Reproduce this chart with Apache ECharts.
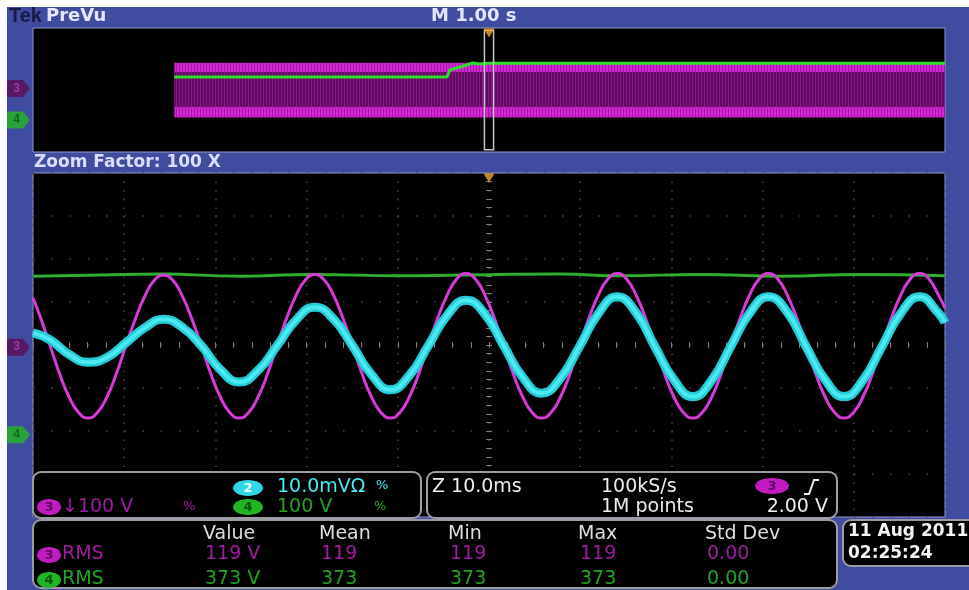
<!DOCTYPE html>
<html><head><meta charset="utf-8">
<script src="https://cdn.jsdelivr.net/npm/echarts@6/dist/echarts.min.js"></script>
<style>
html,body{margin:0;padding:0;background:#fff;}
#bg{position:absolute;left:7px;top:7px;width:962px;height:583px;background:#3f4c9f;}
#chart{position:absolute;left:0;top:0;width:969px;height:590px;}
</style></head><body><div id="bg"></div><div id="chart"></div>
<script>
// ---------------- DATA ----------------
// Main (zoomed) window: time in ms relative to screen centre, amplitude in divisions
const ch3T = [-50, -49.15, -48.12, -47.08, -46.04, -45.01, -43.97, -42.93, -41.90, -40.86, -39.82, -38.79, -37.75, -36.72, -35.68, -34.64, -33.61, -32.57, -31.53, -30.50, -29.46, -28.43, -27.39, -26.35, -25.32, -24.28, -23.25, -22.21, -21.17, -20.14, -19.10, -18.06, -17.03, -15.99, -14.96, -13.92, -12.88, -11.85, -10.81, -9.77, -8.74, -7.70, -6.67, -5.63, -4.59, -3.56, -2.52, -1.48, -0.45, 0.59, 1.62, 2.66, 3.70, 4.73, 5.77, 6.81, 7.84, 8.88, 9.91, 10.95, 11.99, 13.02, 14.06, 15.10, 16.13, 17.17, 18.20, 19.24, 20.28, 21.31, 22.35, 23.39, 24.42, 25.46, 26.49, 27.53, 28.57, 29.60, 30.64, 31.68, 32.71, 33.75, 34.78, 35.82, 36.86, 37.89, 38.93, 39.97, 41.00, 42.04, 43.07, 44.11, 45.15, 46.18, 47.22, 48.26, 49.29, 50];
const ch3Main = [1.10, 0.62, -0.02, -0.67, -1.21, -1.57, -1.70, -1.57, -1.21, -0.67, -0.02, 0.60, 1.13, 1.50, 1.62, 1.50, 1.13, 0.60, -0.02, -0.67, -1.21, -1.57, -1.70, -1.57, -1.21, -0.67, -0.02, 0.61, 1.15, 1.51, 1.64, 1.51, 1.15, 0.61, -0.02, -0.67, -1.21, -1.57, -1.70, -1.57, -1.21, -0.67, -0.02, 0.62, 1.16, 1.53, 1.66, 1.53, 1.16, 0.62, -0.02, -0.67, -1.21, -1.57, -1.70, -1.57, -1.21, -0.67, -0.02, 0.62, 1.16, 1.53, 1.66, 1.53, 1.16, 0.62, -0.02, -0.67, -1.21, -1.57, -1.70, -1.57, -1.21, -0.67, -0.02, 0.62, 1.16, 1.53, 1.66, 1.53, 1.16, 0.62, -0.02, -0.67, -1.21, -1.57, -1.70, -1.57, -1.21, -0.67, -0.02, 0.62, 1.16, 1.53, 1.66, 1.53, 1.16, 0.86];
const ch2T = [-50, -48.12, -46.04, -43.97, -41.90, -39.82, -37.75, -35.68, -33.61, -31.53, -29.46, -27.39, -25.32, -23.25, -21.17, -19.10, -17.03, -14.96, -12.88, -10.81, -8.74, -6.67, -4.59, -2.52, -0.45, 1.62, 3.70, 5.77, 7.84, 9.91, 11.99, 14.06, 16.13, 18.20, 20.28, 22.35, 24.42, 26.49, 28.57, 30.64, 32.71, 34.78, 36.86, 38.93, 41.00, 43.07, 45.15, 47.22, 49.29, 50];
const ch2Main = [0.28, 0.12, -0.22, -0.40, -0.29, 0.05, 0.40, 0.60, 0.41, -0.02, -0.57, -0.86, -0.59, -0.02, 0.58, 0.88, 0.60, -0.02, -0.69, -1.04, -0.71, -0.02, 0.69, 1.04, 0.72, -0.02, -0.75, -1.12, -0.77, -0.04, 0.73, 1.12, 0.75, -0.04, -0.81, -1.20, -0.82, -0.04, 0.74, 1.12, 0.76, -0.04, -0.81, -1.20, -0.82, -0.04, 0.74, 1.12, 0.74, 0.52];
const ch4T = [-50, -42.6, -36.1, -27.3, -19.4, -9.8, -2.9, 7.8, 14.4, 23.2, 32.0, 40.8, 50];
const ch4Main = [1.60, 1.63, 1.65, 1.60, 1.64, 1.61, 1.63, 1.65, 1.61, 1.64, 1.60, 1.64, 1.61];
// PreVu overview: time in s, amplitude in divisions
const ovSpan = [1.55, 10.0];
const ch3EnvOuter = [-1.77, 1.76];
const ch3EnvInner = [-1.10, 1.16];
const ovGreenT = [1.55, 4.54, 4.57, 4.68, 4.82, 4.90, 5.0, 10.0];
const ch4Over = [0.84, 0.84, 1.29, 1.48, 1.74, 1.68, 1.72, 1.72];
const zoomWindow = [4.95, 5.05];
const zoomWindowY = [-3.85, 3.85];
const ovTrigger = 5.0;
const mainTrigger = 0;
// channel ground markers (divisions)
const ovLevels = {ch3: 0.10, ch4: -1.94};
const mainLevels = {ch3: -0.05, ch4: -2.09};
// measurement table
const measHeaders = ['Value', 'Mean', 'Min', 'Max', 'Std Dev'];
const ch3Meas = ['119 V', '119', '119', '119', '0.00'];
const ch4Meas = ['373 V', '373', '373', '373', '0.00'];

// ---------------- STYLE ----------------
const MAG = '#d83ad8', CYAN = '#4aeaf0', GRN = '#2fae2f', GRN_OV = '#2ddc2d';
const FONT = '"DejaVu Sans", sans-serif';
function stripes(a, b, wa, wb) {
  const c = document.createElement('canvas');
  c.width = wa + wb; c.height = 2;
  const g = c.getContext('2d');
  g.fillStyle = a; g.fillRect(0, 0, wa, 2);
  g.fillStyle = b; g.fillRect(wa, 0, wb, 2);
  return {image: c, repeat: 'repeat'};
}
const brightFill = stripes('#d426d4', '#a016a0', 2, 1);
const darkFill = stripes('#620a62', '#86168a', 2, 1);

function rectRender(style) {
  return function (params, api) {
    const a = api.coord([api.value(0), api.value(3)]);
    const b = api.coord([api.value(1), api.value(2)]);
    return {type: 'rect', shape: {x: a[0], y: a[1], width: b[0] - a[0], height: b[1] - a[1]}, style: style};
  };
}
const pair = (xs, ys) => xs.map((x, i) => [x, ys[i]]);
const markerPath = 'path://M2,0 L16,0 L23,8.5 L16,17 L2,17 Q0,17 0,15 L0,2 Q0,0 2,0 Z';
function marker(x, y, name, fill, txt) {
  return {value: [x, y], name: name, itemStyle: {color: fill}, label: {color: txt}};
}

const dotH = {color: '#474747', width: 1.5, type: [1.5, 16.74]};
const dotV = {color: '#474747', width: 1.5, type: [1.5, 7.1]};
const tickStyle = {color: '#7a7a7a', width: 1};
function centerAxis(extra) {
  return Object.assign({type: 'value', axisLabel: {show: false},
    axisLine: {show: true, onZero: true, lineStyle: {color: 'rgba(0,0,0,0)'}},
    axisTick: {show: true, length: 3, lineStyle: tickStyle},
    minorTick: {show: true, splitNumber: 5, length: 3, lineStyle: tickStyle}}, extra);
}

const option = {
  animation: false,
  backgroundColor: 'transparent',
  grid: [
    {left: 33, top: 28, width: 912, height: 124, show: true, backgroundColor: '#000', borderColor: '#8f98d0', borderWidth: 1},
    {left: 33, top: 173, width: 912, height: 344, show: true, backgroundColor: '#000', borderColor: '#8f98d0', borderWidth: 1}
  ],
  xAxis: [
    {gridIndex: 0, type: 'value', min: 0, max: 10, show: false},
    centerAxis({gridIndex: 1, min: -50, max: 50, interval: 10, splitLine: {show: true, lineStyle: dotV}}),
    centerAxis({gridIndex: 1, min: -50, max: 50, interval: 10, position: 'top', splitLine: {show: false}})
  ],
  yAxis: [
    {gridIndex: 0, type: 'value', min: -4, max: 4, show: false},
    centerAxis({gridIndex: 1, min: -4, max: 4, interval: 1, position: 'left', splitLine: {show: true, lineStyle: dotH}}),
    centerAxis({gridIndex: 1, min: -4, max: 4, interval: 1, position: 'right', splitLine: {show: false}})
  ],
  series: [
    // overview
    {type: 'custom', xAxisIndex: 0, yAxisIndex: 0, renderItem: rectRender({fill: brightFill}),
      encode: {x: [0, 1], y: [2, 3]}, data: [[ovSpan[0], ovSpan[1], ch3EnvOuter[0], ch3EnvOuter[1]]], silent: true},
    {type: 'custom', xAxisIndex: 0, yAxisIndex: 0, renderItem: rectRender({fill: darkFill}),
      encode: {x: [0, 1], y: [2, 3]}, data: [[ovSpan[0], ovSpan[1], ch3EnvInner[0], ch3EnvInner[1]]], silent: true},
    {type: 'line', xAxisIndex: 0, yAxisIndex: 0, data: pair(ovGreenT, ch4Over), showSymbol: false,
      lineStyle: {color: GRN_OV, width: 3}},
    {type: 'custom', xAxisIndex: 0, yAxisIndex: 0, renderItem: rectRender({fill: 'none', stroke: '#c4c4c4', lineWidth: 1.5}),
      encode: {x: [0, 1], y: [2, 3]}, data: [[zoomWindow[0], zoomWindow[1], zoomWindowY[0], zoomWindowY[1]]], z: 5},
    {type: 'scatter', xAxisIndex: 0, yAxisIndex: 0, clip: false, symbol: 'triangle', symbolRotate: 180,
      symbolSize: [11, 9], symbolOffset: [0, 5], itemStyle: {color: '#f2a630'}, data: [[ovTrigger, 4]], z: 6},
    {type: 'scatter', xAxisIndex: 0, yAxisIndex: 0, clip: false, symbol: markerPath, symbolSize: [23, 17],
      symbolOffset: [-14.5, 0], label: {show: true, formatter: '{b}', position: 'inside', offset: [-2, 0], fontSize: 12, fontWeight: 'bold'},
      data: [marker(0, ovLevels.ch3, '3', '#5e0c58', '#b040b0'), marker(0, ovLevels.ch4, '4', '#24b824', '#0a5a0a')], z: 6},
    // main window
    {type: 'line', xAxisIndex: 1, yAxisIndex: 1, data: pair(ch4T, ch4Main), smooth: true, showSymbol: false,
      lineStyle: {color: GRN, width: 3}},
    {type: 'line', xAxisIndex: 1, yAxisIndex: 1, data: pair(ch3T, ch3Main), smooth: true, showSymbol: false,
      lineStyle: {color: MAG, width: 3}},
    {type: 'line', xAxisIndex: 1, yAxisIndex: 1, data: pair(ch2T, ch2Main), smooth: true, showSymbol: false,
      lineStyle: {color: '#24ccd7', width: 9}},
    {type: 'line', xAxisIndex: 1, yAxisIndex: 1, data: pair(ch2T, ch2Main), smooth: true, showSymbol: false,
      lineStyle: {color: CYAN, width: 4}},
    {type: 'scatter', xAxisIndex: 1, yAxisIndex: 1, clip: false, symbol: 'triangle', symbolRotate: 180,
      symbolSize: [11, 9], symbolOffset: [0, 5], itemStyle: {color: '#f2a630'}, data: [[mainTrigger, 4]], z: 6},
    {type: 'scatter', xAxisIndex: 1, yAxisIndex: 1, clip: false, symbol: markerPath, symbolSize: [23, 17],
      symbolOffset: [-14.5, 0], label: {show: true, formatter: '{b}', position: 'inside', offset: [-2, 0], fontSize: 12, fontWeight: 'bold'},
      data: [marker(-50, mainLevels.ch3, '3', '#5e0c58', '#b040b0'), marker(-50, mainLevels.ch4, '4', '#24b824', '#0a5a0a')], z: 6}
  ]
};

// ---------------- static screen furniture ----------------
function T(text, x, y, fill, font, align) {
  return {type: 'text', z: 100, style: {text: text, x: x, y: y, fill: fill, font: font,
    textAlign: align || 'left', align: align || 'left', textVerticalAlign: 'middle', verticalAlign: 'middle'}};
}
function box(x, y, w, h) {
  return {type: 'rect', z: 99, shape: {x: x, y: y, width: w, height: h, r: 8},
    style: {fill: '#000', stroke: '#9c9ca4', lineWidth: 2}};
}
function badge(cx, cy, rx, fill, label, labelColor) {
  return [
    {type: 'ellipse', z: 100, shape: {cx: cx, cy: cy, rx: rx, ry: 8}, style: {fill: fill}},
    T(label, cx, cy + 1, labelColor, 'bold 13px ' + FONT, 'center')
  ];
}
const F19 = '19px ' + FONT;
const DIMMAG = '#a01ca0', DIMGRN = '#22a422';
const measX = [203, 319, 448, 578, 705];
const g = [];
g.push(T('Tek', 9, 16, '#161a46', 'bold 20px "Liberation Sans", sans-serif'));
g.push(T('PreVu', 46, 16, '#e4e4ff', 'bold 18px ' + FONT));
g.push(T('M 1.00 s', 431, 16, '#e4e4ff', 'bold 18px ' + FONT));
g.push(T('Zoom Factor: 100 X', 34, 163, '#dcdcff', 'bold 17px ' + FONT));
// channel panel
g.push(box(33, 472, 388, 46));
g.push(...badge(248, 488, 15, '#30d6e4', '2', '#eaffff'));
g.push(T('10.0mVΩ', 277, 487, CYAN, F19));
g.push(T('%', 376, 486, CYAN, '13px ' + FONT));
g.push(...badge(49, 507, 12, '#c01cc0', '3', '#640a64'));
g.push(T('↓100 V', 62, 507, DIMMAG, F19));
g.push(T('%', 183, 507, DIMMAG, '13px ' + FONT));
g.push(...badge(248, 507, 15, '#22b422', '4', '#0a560a'));
g.push(T('100 V', 277, 507, DIMGRN, F19));
g.push(T('%', 374, 507, DIMGRN, '13px ' + FONT));
// horizontal / trigger panel
g.push(box(427, 472, 410, 46));
g.push(T('Z 10.0ms', 432, 487, '#ececec', F19));
g.push(T('100kS/s', 601, 487, '#ececec', F19));
g.push(T('1M points', 601, 507, '#ececec', F19));
g.push(...badge(772, 486, 17, '#c01cc0', '3', '#640a64'));
g.push({type: 'polyline', z: 100, shape: {points: [[804, 494], [809, 494], [814, 480], [819, 480]]},
  style: {stroke: '#ececec', lineWidth: 2, fill: 'none'}});
g.push(T('2.00 V', 828, 507, '#ececec', F19, 'right'));
// measurement panel
g.push(box(33, 520, 804, 68));
measHeaders.forEach((h, i) => g.push(T(h, measX[i], 534, '#dedede', F19)));
g.push(...badge(49, 555, 12, '#c01cc0', '3', '#640a64'));
g.push(T('RMS', 62, 554, DIMMAG, F19));
ch3Meas.forEach((v, i) => g.push(T(v, measX[i] + 2, 554, DIMMAG, F19)));
g.push(...badge(49, 580, 12, '#22b422', '4', '#0a560a'));
g.push(T('RMS', 62, 579, DIMGRN, F19));
ch4Meas.forEach((v, i) => g.push(T(v, measX[i] + 2, 579, DIMGRN, F19)));
// date box
g.push(box(843, 520, 140, 46));
g.push(T('11 Aug 2011', 848, 532, '#f4f4f4', 'bold 17px ' + FONT));
g.push(T('02:25:24', 848, 554, '#f4f4f4', 'bold 17px ' + FONT));
option.graphic = {elements: g};

const chart = echarts.init(document.getElementById('chart'), null, {renderer: 'canvas'});
chart.setOption(option);
</script></body></html>
